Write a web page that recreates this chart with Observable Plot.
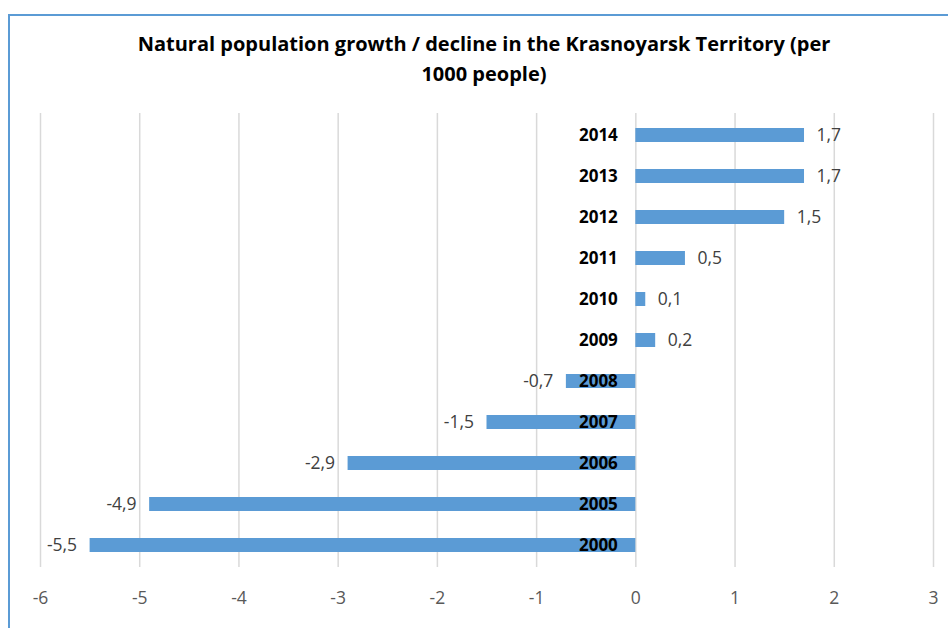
<!DOCTYPE html>
<html>
<head>
<meta charset="utf-8">
<script src="https://cdn.jsdelivr.net/npm/d3@7"></script>
<script src="https://cdn.jsdelivr.net/npm/@observablehq/plot@0.6"></script>
<style>
  html, body { margin: 0; padding: 0; background: #fff; }
  #wrap { position: relative; width: 948px; height: 628px; overflow: hidden; font-family: "Open Sans", sans-serif; }
  #border { position: absolute; left: 8px; top: 14px; right: -4px; bottom: -4px; border-left: 2px solid #5b9bd5; border-top: 2px solid #5b9bd5; }
  .title { position: absolute; left: 0; width: 968px; text-align: center; font-weight: 700; font-size: 20px; line-height: 27px; color: #000; white-space: nowrap; }
  #chart { position: absolute; left: 0; top: 0; }
</style>
</head>
<body>
<div id="wrap">
  <div id="border"></div>
  <div id="chart"></div>
  <div class="title" style="top:30px;">Natural population growth / decline in the Krasnoyarsk Territory (per</div>
  <div class="title" style="top:60px;">1000 people)</div>
</div>
<script>
const years = ["2014", "2013", "2012", "2011", "2010", "2009", "2008", "2007", "2006", "2005", "2000"];
const values = [1.7, 1.7, 1.5, 0.5, 0.1, 0.2, -0.7, -1.5, -2.9, -4.9, -5.5];
const xTicks = [-6, -5, -4, -3, -2, -1, 0, 1, 2, 3];

const data = years.map((year, i) => ({year, value: values[i]}));
const fmt = v => String(v).replace(".", ",");

const plot = Plot.plot({
  width: 948,
  height: 628,
  marginLeft: 40,
  marginRight: 15,
  marginTop: 113,
  marginBottom: 61,
  style: { fontFamily: "Open Sans, sans-serif", background: "transparent" },
  x: { domain: [-6, 3], ticks: xTicks },
  y: { type: "band", domain: years, paddingInner: 0.65, paddingOuter: 0.325, axis: null },
  marks: [
    Plot.gridX(xTicks, { stroke: "#d9d9d9", strokeOpacity: 1, strokeWidth: 1.5 }),
    Plot.barX(data, { x: "value", y: "year", fill: "#5b9bd5" }),
    Plot.text(data, { x: 0, y: "year", text: "year", textAnchor: "end", dx: -18, fontWeight: "bold", fontSize: 17, fill: "#000" }),
    Plot.text(data.filter(d => d.value >= 0), { x: "value", y: "year", text: d => fmt(d.value), textAnchor: "start", dx: 12, fontSize: 17.5, fill: "#404040" }),
    Plot.text(data.filter(d => d.value < 0), { x: "value", y: "year", text: d => fmt(d.value), textAnchor: "end", dx: -13, fontSize: 17.5, fill: "#404040" }),
    Plot.axisX(xTicks, { tickSize: 0, tickPadding: 24, fontSize: 17.5, fill: "#595959", tickFormat: d => String(d), label: null })
  ]
});
document.getElementById("chart").appendChild(plot);
</script>
</body>
</html>
